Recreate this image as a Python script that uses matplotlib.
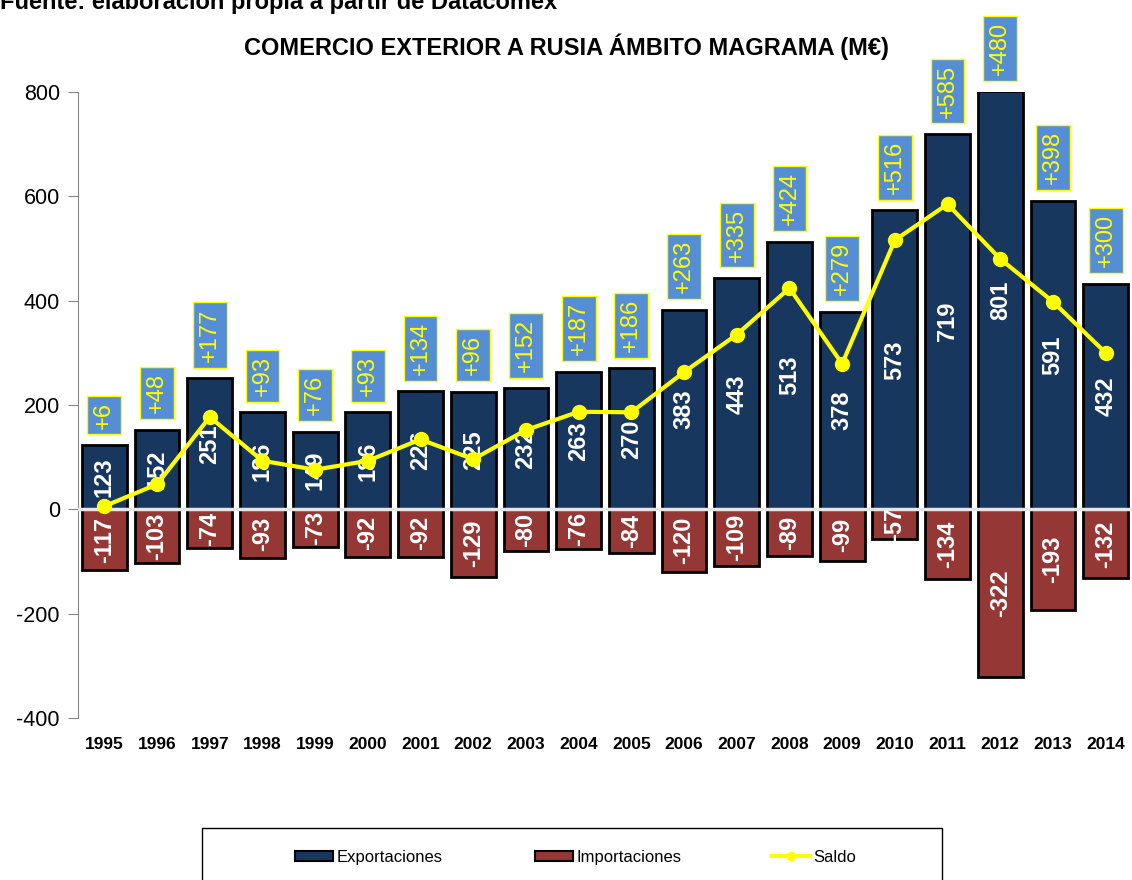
import matplotlib
matplotlib.use("Agg")
import matplotlib.pyplot as plt
from matplotlib.patches import Patch, Rectangle
from matplotlib.lines import Line2D
import numpy as np

plt.rcParams['font.family'] = ['Liberation Sans', 'DejaVu Sans']
plt.rcParams['axes.unicode_minus'] = False

years = ['1995', '1996', '1997', '1998', '1999', '2000', '2001', '2002', '2003', '2004',
         '2005', '2006', '2007', '2008', '2009', '2010', '2011', '2012', '2013', '2014']
exportaciones = [123, 152, 251, 186, 149, 186, 226, 225, 232, 263,
                 270, 383, 443, 513, 378, 573, 719, 801, 591, 432]
importaciones = [-117, -103, -74, -93, -73, -92, -92, -129, -80, -76,
                 -84, -120, -109, -89, -99, -57, -134, -322, -193, -132]
saldo = [6, 48, 177, 93, 76, 93, 134, 96, 152, 187,
         186, 263, 335, 424, 279, 516, 585, 480, 398, 300]

title = 'COMERCIO EXTERIOR A RUSIA ÁMBITO MAGRAMA (M€)'
fuente = 'Fuente: elaboración propia a partir de Datacomex'

W, H = 1132, 880
fig = plt.figure(figsize=(W / 100, H / 100), dpi=100)
ax = fig.add_axes([78 / W, (H - 718) / H, (W - 78) / W, (718 - 92) / H])

x = np.arange(len(years))
c_exp = '#17375E'
c_imp = '#953735'
ax.bar(x, exportaciones, width=0.85, color=c_exp, edgecolor='black', linewidth=2, zorder=2)
ax.bar(x, importaciones, width=0.85, color=c_imp, edgecolor='black', linewidth=2, zorder=2)
ax.axhline(0, color='#e6e6e6', lw=2.5, zorder=3)
ax.plot(x, saldo, color='#FFFF00', lw=3, marker='o', markersize=10, zorder=5)

for xi, e, i, s in zip(x, exportaciones, importaciones, saldo):
    ax.text(xi, e / 2, f'{e}', rotation=90, ha='center', va='center', color='white',
            fontsize=17, fontweight='bold', zorder=4)
    ax.text(xi, i / 2, f'{i}', rotation=90, ha='center', va='center', color='white',
            fontsize=17, fontweight='bold', zorder=4)
    ax.annotate(f'+{s}', xy=(xi, e), xytext=(0, 12), textcoords='offset points',
                rotation=90, ha='center', va='bottom', color='#FFFF00', fontsize=17,
                bbox=dict(boxstyle='square,pad=0.25', facecolor='#558ED5',
                          edgecolor='#FFFF00', linewidth=1),
                annotation_clip=False, zorder=6)

ax.set_xlim(-0.5, len(years) - 0.5)
ax.set_ylim(-400, 800)
ax.set_yticks([-400, -200, 0, 200, 400, 600, 800])
ax.set_xticks(x)
ax.set_xticklabels(years, fontweight='bold', fontsize=12.5)
ax.tick_params(axis='x', length=0, pad=14)
ax.tick_params(axis='y', direction='out', length=7, color='#868686', labelsize=15.5, pad=6)
for sp in ['top', 'right', 'bottom']:
    ax.spines[sp].set_visible(False)
ax.spines['left'].set_color('#868686')

fig.text(566 / W, (H - 47) / H, title, ha='center', va='center', fontsize=17, fontweight='bold')
fig.text(0.0, (H - 9) / H, fuente, ha='left', va='baseline', fontsize=17, fontweight='bold')

# Legend
fig.patches.append(Rectangle((202 / W, -0.02), 740 / W, (H - 828) / H + 0.02, fill=False,
                             edgecolor='black', lw=1, transform=fig.transFigure, figure=fig))
handles = [Patch(facecolor=c_exp, edgecolor='black', lw=1.5, label='Exportaciones'),
           Patch(facecolor=c_imp, edgecolor='black', lw=1.5, label='Importaciones'),
           Line2D([], [], color='#FFFF00', lw=3, marker='o', markersize=6, label='Saldo')]
for hx, h in zip([295, 535, 772], handles):
    fig.legend(handles=[h], loc='center left', bbox_to_anchor=(hx / W, (H - 857) / H),
               frameon=False, fontsize=12, handlelength=2.3, handleheight=0.55,
               handletextpad=0.2, borderpad=0, borderaxespad=0)

fig.savefig('out.png', dpi=100)
